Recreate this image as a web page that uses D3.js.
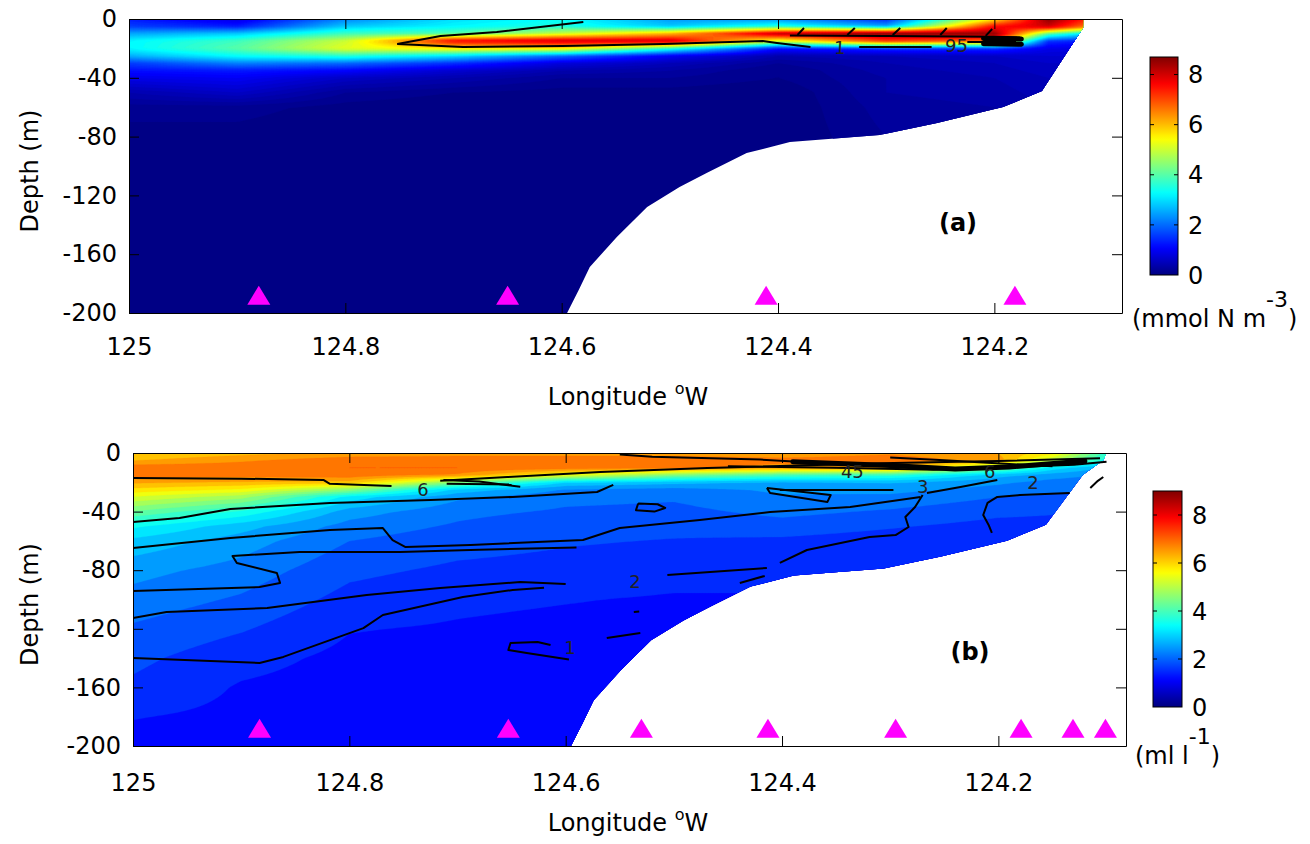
<!DOCTYPE html>
<html>
<head>
<meta charset="utf-8">
<script src="https://cdn.jsdelivr.net/npm/d3@7/dist/d3.min.js"></script>
<style>
  body { margin: 0; background: #fff; }
  text { font-family: "DejaVu Sans", sans-serif; }
</style>
</head>
<body>
<div id="chart"></div>
<script>
const width = 1310;
const height = 844;

// ---- data ----
const xTicks = [125, 124.8, 124.6, 124.4, 124.2];
const yTicks = [0, -40, -80, -120, -160, -200];

// section grid: one profile per longitude, values at the depths listed
const lonsGrid = [125.0, 124.9, 124.8, 124.7, 124.6, 124.5, 124.4, 124.3, 124.2, 124.15, 124.1];

const depthsA = [0, 5, 10, 15, 20, 25, 30, 35, 40, 50, 60, 80, 120, 200];
const nitrate = [
  [1.3, 1.6, 2.5, 3.2, 3.2, 2.6, 1.6, 1.2, 0.9, 0.4, 0.15, 0.05, 0, 0],
  [0.8, 1.3, 2.8, 3.8, 4.0, 3.3, 2.2, 1.3, 1.0, 0.6, 0.15, 0.05, 0, 0],
  [2.2, 2.8, 3.8, 5.0, 5.2, 3.6, 2.0, 1.1, 0.6, 0.2, 0.05, 0, 0, 0],
  [3.0, 3.2, 4.0, 7.6, 5.5, 3.0, 1.5, 0.7, 0.4, 0.1, 0, 0, 0, 0],
  [3.3, 3.5, 5.0, 8.0, 5.5, 2.0, 0.8, 0.4, 0.2, 0.05, 0, 0, 0, 0],
  [2.4, 2.8, 6.0, 8.0, 3.5, 1.0, 0.5, 0.3, 0.2, 0.05, 0, 0, 0, 0],
  [2.3, 3.5, 8.0, 5.0, 1.2, 0.4, 0.2, 0.1, 0.1, 0, 0, 0, 0, 0],
  [1.4, 2.5, 8.5, 7.0, 1.5, 0.5, 0.4, 0.35, 0.3, 0.3, 0.25, 0.2, 0.1, 0.1],
  [5.5, 7.5, 8.5, 6.5, 1.5, 0.6, 0.5, 0.45, 0.4, 0.35, 0.3, 0.2, 0.1, 0.1],
  [8.6, 8.0, 4.0, 1.5, 0.9, 0.7, 0.6, 0.55, 0.5, 0.45, 0.4, 0.3, 0.2, 0.1],
  [6.8, 6.0, 2.5, 1.2, 0.8, 0.7, 0.6, 0.55, 0.5, 0.45, 0.4, 0.3, 0.2, 0.1]
];

const depthsB = [0, 5, 10, 15, 20, 25, 30, 40, 50, 60, 80, 100, 120, 140, 160, 180, 200];
const oxygen = [
  [6.0, 6.3, 6.9, 6.8, 6.4, 5.9, 5.3, 4.3, 3.4, 2.9, 2.45, 2.2, 1.95, 1.75, 1.6, 1.35, 1.2],
  [6.2, 6.6, 6.9, 6.8, 6.3, 5.6, 4.8, 3.6, 2.8, 2.5, 2.2, 1.95, 1.7, 1.45, 1.3, 1.25, 1.2],
  [6.4, 6.9, 7.0, 6.9, 6.2, 4.6, 3.2, 2.5, 2.2, 2.0, 1.75, 1.55, 1.35, 1.25, 1.2, 1.2, 1.2],
  [6.5, 6.9, 7.0, 6.6, 4.5, 2.9, 2.4, 2.1, 1.95, 1.8, 1.6, 1.4, 1.3, 1.2, 1.2, 1.2, 1.2],
  [6.5, 6.9, 6.9, 5.5, 3.0, 2.3, 2.1, 1.95, 1.75, 1.7, 1.55, 1.35, 1.25, 1.2, 1.2, 1.2, 1.2],
  [6.5, 6.9, 6.8, 4.5, 2.8, 2.2, 2.05, 1.9, 1.75, 1.65, 1.45, 1.3, 1.25, 1.2, 1.2, 1.2, 1.2],
  [6.4, 6.8, 6.5, 4.0, 2.6, 2.4, 2.3, 2.1, 1.85, 1.6, 1.45, 1.3, 1.2, 1.2, 1.2, 1.2, 1.2],
  [6.6, 6.9, 6.6, 3.8, 2.7, 2.45, 2.25, 1.95, 1.7, 1.5, 1.4, 1.3, 1.2, 1.2, 1.2, 1.2, 1.2],
  [6.3, 6.5, 4.5, 2.8, 2.4, 2.2, 2.0, 1.75, 1.55, 1.45, 1.35, 1.3, 1.2, 1.2, 1.2, 1.2, 1.2],
  [5.8, 5.0, 3.2, 2.5, 2.2, 2.05, 1.95, 1.7, 1.55, 1.45, 1.35, 1.3, 1.2, 1.2, 1.2, 1.2, 1.2],
  [3.8, 3.5, 2.6, 2.3, 2.1, 2.0, 1.9, 1.7, 1.55, 1.45, 1.35, 1.3, 1.2, 1.2, 1.2, 1.2, 1.2]
];

// sea floor (east -> west)
const bottomLon = [124.156, 124.192, 124.253, 124.306, 124.389, 124.429, 124.466, 124.491, 124.521, 124.549, 124.574, 124.584, 124.595];
const bottomDepth = [-49, -59.9, -70.7, -78.9, -83.7, -91.2, -104.8, -114.3, -127.9, -148.3, -168.7, -184, -200];
// eastern edge of each section (surface -> down)
const eastLonA = [124.118, 124.118];
const eastDepthA = [0, -6];
const eastLonB = [124.100, 124.103, 124.122];
const eastDepthB = [0, -5, -15];

// stations
const stationsA = [124.880, 124.650, 124.411, 124.181];
const stationsB = [124.883, 124.653, 124.530, 124.413, 124.295, 124.179, 124.131, 124.101];

// observed contour lines [lon, depth]
const linesA = [
  [[124.752, -17.0], [124.712, -11.6], [124.660, -8.8], [124.580, -2.0]],
  [[124.752, -17.0], [124.691, -19.0], [124.599, -18.4], [124.506, -17.0], [124.414, -15.0], [124.401, -16.3], [124.370, -19.0]],
  [[124.325, -19.0], [124.258, -19.0]],
  [[124.225, -15.6], [124.180, -15.6]],
  [[124.389, -11.2], [124.30, -11.5], [124.2, -12.0], [124.176, -12.5]],
  [[124.382, -10.9], [124.376, -6.1]],
  [[124.336, -10.9], [124.329, -6.1]],
  [[124.294, -10.9], [124.287, -6.1]],
  [[124.250, -10.9], [124.244, -6.1]],
  [[124.208, -11.5], [124.202, -6.8]]
];
const thickLinesA = [
  [[124.21, -13.2], [124.175, -13.6]],
  [[124.21, -16.8], [124.175, -17.2]]
];
const labelsA = [["1", 124.343, -19.5], ["95", 124.235, -18.5]];

const linesB = [
  [[125.0, -17.1], [124.90, -17.5], [124.824, -18.4], [124.818, -21.0], [124.761, -22.5]],
  [[124.713, -18.4], [124.68, -19.5], [124.642, -23.0]],
  [[124.71, -21.0], [124.65, -21.5]],
  [[124.716, -19.0], [124.654, -16.4], [124.568, -13.0], [124.469, -10.2], [124.309, -7.0], [124.2, -5.5], [124.106, -3.5]],
  [[124.45, -9.0], [124.35, -10.0], [124.26, -11.5], [124.2, -10.0], [124.13, -8.0], [124.10, -6.0]],
  [[124.55, -1.0], [124.52, -2.5], [124.42, -4.5], [124.36, -7.0]],
  [[124.30, -3.0], [124.25, -5.0], [124.19, -7.5], [124.15, -9.0]],
  [[125.0, -47.1], [124.957, -44.4], [124.910, -38.2], [124.818, -34.1], [124.725, -32.1], [124.649, -30.0], [124.571, -26.6], [124.556, -21.8]],
  [[125.0, -64.8], [124.910, -58.0], [124.818, -52.6], [124.769, -51.2], [124.760, -59.4], [124.748, -64.2], [124.688, -62.8], [124.584, -59.4], [124.550, -51.2], [124.476, -45.7], [124.411, -40.3], [124.337, -36.9], [124.272, -30.0]],
  [[124.402, -25.3], [124.297, -25.3]],
  [[124.266, -27.3], [124.235, -23.2], [124.201, -18.4]],
  [[124.270, -28.7], [124.277, -36.9], [124.286, -43.7], [124.283, -50.5], [124.295, -56.0], [124.319, -57.3], [124.377, -66.2], [124.402, -75.0]],
  [[124.206, -54.6], [124.209, -49.1], [124.214, -42.3], [124.210, -34.1], [124.201, -30.0], [124.180, -28.7], [124.134, -27.3]],
  [[125.0, -94.2], [124.883, -91.5], [124.864, -88.7], [124.867, -81.9], [124.904, -75.1], [124.908, -70.3], [124.846, -67.6], [124.753, -67.6], [124.68, -66.0], [124.59, -64.5]],
  [[125.0, -112.6], [124.969, -108.5], [124.876, -105.8], [124.784, -96.9], [124.716, -92.2], [124.642, -88.1], [124.60, -89.5]],
  [[125.0, -139.9], [124.883, -143.3], [124.861, -139.2], [124.787, -119.5], [124.769, -110.6], [124.695, -98.3], [124.649, -93.5], [124.62, -92.0]],
  [[124.506, -83.3], [124.44, -79.9], [124.414, -78.5]],
  [[124.439, -88.7], [124.416, -83.9]],
  [[124.597, -141.0], [124.636, -136.5], [124.653, -134.5], [124.651, -129.7], [124.626, -129.0], [124.614, -131.1]],
  [[124.562, -126.3], [124.531, -122.9]],
  [[124.537, -108.5], [124.532, -108.2]],
  [[124.533, -34.5], [124.515, -35.0], [124.508, -37.5], [124.518, -40.0], [124.535, -39.0], [124.533, -34.5]],
  [[124.414, -23.9], [124.355, -28.7], [124.358, -33.4], [124.411, -27.3], [124.414, -23.9]],
  [[124.115, -23.9], [124.108, -19.0], [124.103, -16.4]]
];
const thickLinesB = [
  [[124.39, -6.0], [124.30, -8.5], [124.24, -11.0], [124.19, -9.5], [124.12, -5.5]]
];
const labelsB = [["6", 124.732, -25.3], ["2", 124.536, -88], ["1", 124.596, -133], ["45", 124.335, -13],
                 ["3", 124.270, -23.2], ["6", 124.208, -13], ["2", 124.168, -20.5]];

// ---- helpers ----
function jet(f) {
  f = Math.max(0, Math.min(1, f));
  const c = v => Math.round(255 * Math.max(0, Math.min(1, v)));
  return d3.rgb(c(Math.min(4 * f - 1.5, -4 * f + 4.5)), c(Math.min(4 * f - 0.5, -4 * f + 3.5)), c(Math.min(4 * f + 0.5, -4 * f + 2.5))).toString();
}

function locate(arr, v, desc) {
  // returns [index, t] for linear interpolation in arr
  const n = arr.length;
  if (desc ? v >= arr[0] : v <= arr[0]) return [0, 0];
  if (desc ? v <= arr[n - 1] : v >= arr[n - 1]) return [n - 2, 1];
  for (let i = 0; i < n - 1; i++) {
    const a = arr[i], b = arr[i + 1];
    if (desc ? (v <= a && v >= b) : (v >= a && v <= b)) return [i, (v - a) / (b - a)];
  }
  return [n - 2, 1];
}

function sample(lons, depths, values, lon, depth) {
  const [i, tx] = locate(lons, lon, true);
  const [j, ty] = locate(depths, depth, false);
  const v00 = values[i][j], v01 = values[i][j + 1], v10 = values[i + 1][j], v11 = values[i + 1][j + 1];
  return (v00 * (1 - ty) + v01 * ty) * (1 - tx) + (v10 * (1 - ty) + v11 * ty) * tx;
}

const svg = d3.select("#chart").append("svg")
  .attr("width", width)
  .attr("height", height);

const panels = [
  { id: "a", depths: depthsA, values: nitrate, vmax: 8.7, step: 0.1,
    left: 129, right: 1122, top: 19, bottom: 313,
    eastLon: eastLonA, eastDepth: eastDepthA, stations: stationsA,
    lines: linesA, thick: thickLinesA, labels: labelsA,
    cbar: { x: 1150, y0: 57, y1: 275, w: 28 }, tag: "(a)", tagX: 958, tagY: 231,
    unit: ["(mmol N m", "-3", ")"], unitX: 1132, unitY: 327, tickY: 355, titleY: 405 },
  { id: "b", depths: depthsB, values: oxygen, vmax: 9.0, step: 1 / 3,
    left: 133, right: 1126, top: 453, bottom: 746,
    eastLon: eastLonB, eastDepth: eastDepthB, stations: stationsB,
    lines: linesB, thick: thickLinesB, labels: labelsB,
    cbar: { x: 1153, y0: 491, y1: 707, w: 29 }, tag: "(b)", tagX: 970, tagY: 660,
    unit: ["(ml l", "-1", ")"], unitX: 1135, unitY: 764, tickY: 791, titleY: 831 }
];

const defs = svg.append("defs");

panels.forEach(p => {
  const x = d3.scaleLinear().domain([125, 124.082]).range([p.left, p.right]);
  const y = d3.scaleLinear().domain([0, -200]).range([p.top, p.bottom]);
  const W = p.right - p.left, H = p.bottom - p.top;

  // water polygon (surface, east edge, sea floor, west edge)
  const poly = [[125, 0]];
  p.eastLon.forEach((lon, i) => poly.push([lon, p.eastDepth[i]]));
  bottomLon.forEach((lon, i) => poly.push([lon, bottomDepth[i]]));
  poly.push([125, -200]);
  const line = d3.line().x(d => x(d[0])).y(d => y(d[1]));

  defs.append("clipPath").attr("id", "water-" + p.id)
    .append("path").attr("d", line(poly) + "Z");
  defs.append("clipPath").attr("id", "box-" + p.id)
    .append("rect").attr("x", p.left).attr("y", p.top).attr("width", W).attr("height", H);

  // filled contours
  const nx = 360, ny = 170;
  const grid = new Float64Array(nx * ny);
  for (let j = 0; j < ny; j++) {
    const depth = -y.invert(p.top + (j + 0.5) / ny * H);
    for (let i = 0; i < nx; i++) {
      const lon = x.invert(p.left + (i + 0.5) / nx * W);
      grid[j * nx + i] = sample(lonsGrid, p.depths, p.values, lon, depth);
    }
  }
  const thresholds = d3.range(0, p.vmax, p.step);
  const contours = d3.contours().size([nx, ny]).thresholds(thresholds)(grid);
  const proj = d3.geoTransform({
    point: function (cx, cy) { this.stream.point(p.left + cx / nx * W, p.top + cy / ny * H); }
  });
  const geo = d3.geoPath(proj);

  svg.append("g").attr("clip-path", `url(#water-${p.id})`)
    .selectAll("path")
    .data(contours)
    .join("path")
    .attr("d", geo)
    .attr("fill", d => jet((d.value + p.step / 2) / p.vmax))
    .attr("stroke", d => jet((d.value + p.step / 2) / p.vmax))
    .attr("stroke-width", 0.3);

  // contour lines
  const lg = svg.append("g").attr("clip-path", `url(#box-${p.id})`);
  lg.selectAll("path.obs")
    .data(p.lines)
    .join("path")
    .attr("class", "obs")
    .attr("d", line)
    .attr("fill", "none")
    .attr("stroke", "#000")
    .attr("stroke-width", 2)
    .attr("stroke-linejoin", "round");
  lg.selectAll("path.thick")
    .data(p.thick)
    .join("path")
    .attr("class", "thick")
    .attr("d", line)
    .attr("fill", "none")
    .attr("stroke", "#000")
    .attr("stroke-width", 5)
    .attr("stroke-linecap", "round");
  lg.selectAll("text")
    .data(p.labels)
    .join("text")
    .attr("x", d => x(d[1]))
    .attr("y", d => y(d[2]))
    .attr("dy", "0.35em")
    .attr("text-anchor", "middle")
    .attr("font-size", 18)
    .attr("fill", "#222")
    .text(d => d[0]);

  // stations
  const tw = 23, th = 19;
  svg.append("g").selectAll("path")
    .data(p.stations)
    .join("path")
    .attr("transform", d => `translate(${x(d)},${y(-190)})`)
    .attr("d", `M0,${-th * 2 / 3}L${tw / 2},${th / 3}L${-tw / 2},${th / 3}Z`)
    .attr("fill", "#ff00ff");

  // axes
  const styleAxis = g => {
    g.selectAll("line").attr("stroke", "#000");
    g.select(".domain").attr("stroke", "#000");
    g.selectAll("text").attr("font-size", 24).attr("font-family", "DejaVu Sans, sans-serif").attr("fill", "#000");
  };
  svg.append("g").attr("transform", `translate(0,${p.bottom})`)
    .call(d3.axisBottom(x).tickValues(xTicks).tickFormat(d => String(d)).tickSize(-10).tickSizeOuter(0).tickPadding(0))
    .call(styleAxis)
    .call(g => g.selectAll("text").attr("y", null).attr("dy", null).attr("transform", `translate(0,${p.tickY - p.bottom})`));
  svg.append("g").attr("transform", `translate(0,${p.top})`)
    .call(d3.axisTop(x).tickValues(xTicks).tickFormat("").tickSize(-10).tickSizeOuter(0))
    .call(styleAxis);
  svg.append("g").attr("transform", `translate(${p.left},0)`)
    .call(d3.axisLeft(y).tickValues(yTicks).tickFormat(d => String(d)).tickSize(-10).tickSizeOuter(0).tickPadding(12))
    .call(styleAxis);
  svg.append("g").attr("transform", `translate(${p.right},0)`)
    .call(d3.axisRight(y).tickValues(yTicks).tickFormat("").tickSize(-10).tickSizeOuter(0))
    .call(styleAxis);

  // axis titles
  const cy = (p.top + p.bottom) / 2 + 5;
  svg.append("text")
    .attr("transform", `translate(38,${cy}) rotate(-90)`)
    .attr("text-anchor", "middle")
    .attr("font-size", 24)
    .text("Depth (m)");
  const title = svg.append("text")
    .attr("x", 628).attr("y", p.titleY)
    .attr("text-anchor", "middle")
    .attr("font-size", 24);
  title.append("tspan").text("Longitude ");
  title.append("tspan").attr("font-size", 16).attr("dy", -11).text("o");
  title.append("tspan").attr("dy", 11).text("W");

  // panel tag
  svg.append("text")
    .attr("x", p.tagX).attr("y", p.tagY)
    .attr("text-anchor", "middle")
    .attr("font-size", 24)
    .attr("font-weight", "bold")
    .text(p.tag);

  // colorbar
  const cb = p.cbar;
  const cScale = d3.scaleLinear().domain([0, p.vmax]).range([cb.y1, cb.y0]);
  const grad = defs.append("linearGradient").attr("id", "grad-" + p.id)
    .attr("x1", 0).attr("x2", 0).attr("y1", 1).attr("y2", 0);
  d3.range(0, 1.0001, 0.02).forEach(t => {
    grad.append("stop").attr("offset", t).attr("stop-color", jet(t));
  });
  svg.append("rect")
    .attr("x", cb.x).attr("y", cb.y0).attr("width", cb.w).attr("height", cb.y1 - cb.y0)
    .attr("fill", `url(#grad-${p.id})`)
    .attr("stroke", "#000").attr("stroke-width", 1);
  const cbTicks = [0, 2, 4, 6, 8];
  const cbg = svg.append("g");
  cbg.selectAll("line.l")
    .data(cbTicks.slice(1))
    .join("line").attr("class", "l")
    .attr("x1", cb.x).attr("x2", cb.x + 4)
    .attr("y1", d => cScale(d)).attr("y2", d => cScale(d))
    .attr("stroke", "#000");
  cbg.selectAll("line.r")
    .data(cbTicks.slice(1))
    .join("line").attr("class", "r")
    .attr("x1", cb.x + cb.w - 4).attr("x2", cb.x + cb.w)
    .attr("y1", d => cScale(d)).attr("y2", d => cScale(d))
    .attr("stroke", "#000");
  cbg.selectAll("text")
    .data(cbTicks)
    .join("text")
    .attr("x", cb.x + cb.w + 10)
    .attr("y", d => cScale(d))
    .attr("dy", "0.36em")
    .attr("font-size", 24)
    .text(d => d);

  const unit = svg.append("text")
    .attr("x", p.unitX).attr("y", p.unitY)
    .attr("font-size", 24);
  unit.append("tspan").text(p.unit[0]);
  unit.append("tspan").attr("dy", -20).attr("font-size", 22).text(p.unit[1]);
  unit.append("tspan").attr("dy", 20).text(p.unit[2]);
});
</script>
</body>
</html>
